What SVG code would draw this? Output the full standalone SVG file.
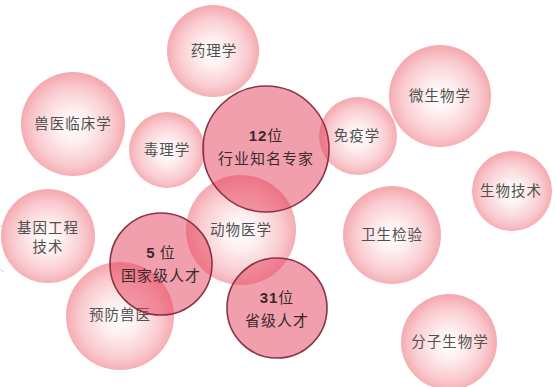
<svg xmlns="http://www.w3.org/2000/svg" width="555" height="387" viewBox="0 0 555 387">
<defs>
<radialGradient id="bub" cx="50%" cy="52%" r="50%">
<stop offset="0" stop-color="#ffffff"/>
<stop offset="0.3" stop-color="#fef0f1"/>
<stop offset="0.75" stop-color="#f9cbcf"/>
<stop offset="1" stop-color="#f5abb1"/>
</radialGradient>
<style>
.b{fill:url(#bub);}
.h{fill:#e6405c;fill-opacity:0.5;stroke:#8a3446;stroke-width:1.6;}
.t{font-family:"Noto Sans CJK SC","Noto Sans",sans-serif;font-size:14.5px;fill:#505050;text-anchor:middle;letter-spacing:1px;}
.k{font-family:"Noto Sans CJK SC","Noto Sans",sans-serif;font-size:15px;fill:#3a2a2e;text-anchor:middle;letter-spacing:1px;}
.n{font-family:"Liberation Sans","Noto Sans",sans-serif;font-weight:bold;}
</style>
</defs>
<rect width="555" height="387" fill="#ffffff"/>
<path d="M4,224 A26,26 0 0 0 4,272" fill="none" stroke="#d8d8d8" stroke-width="1"/>
<g id="yaoli"><circle class="b" cx="213" cy="51" r="46"/><text class="t" x="214" y="56">药理学</text></g>
<g id="shouyi"><circle class="b" cx="73" cy="124" r="52"/><text class="t" x="73" y="129">兽医临床学</text></g>
<g id="duli"><circle class="b" cx="167" cy="150" r="38"/><text class="t" x="167" y="155">毒理学</text></g>
<g id="mianyi"><circle class="b" cx="358" cy="136" r="39"/><text class="t" x="357" y="141">免疫学</text></g>
<g id="weisheng"><circle class="b" cx="440" cy="96" r="51"/><text class="t" x="440" y="101">微生物学</text></g>
<g id="shengwu"><circle class="b" cx="512" cy="191" r="40"/><text class="t" x="511" y="196">生物技术</text></g>
<g id="jiyin"><circle class="b" cx="48" cy="236" r="47"/><text class="t" x="48" y="233">基因工程</text><text class="t" x="48" y="252">技术</text></g>
<g id="dongwu"><circle class="b" cx="241" cy="230" r="55"/><text class="t" x="241" y="235">动物医学</text></g>
<g id="yufang"><circle class="b" cx="120" cy="316" r="54"/><text class="t" x="120" y="320">预防兽医</text></g>
<g id="weishengjianyan"><circle class="b" cx="392" cy="235" r="49"/><text class="t" x="392" y="240">卫生检验</text></g>
<g id="fenzi"><circle class="b" cx="449" cy="342" r="48"/><text class="t" x="450" y="347">分子生物学</text></g>
<g id="expert12"><circle class="h" cx="266" cy="149" r="63"/><text class="k" x="266" y="141"><tspan class="n">12</tspan>位</text><text class="k" x="266" y="164">行业知名专家</text></g>
<g id="nation5"><circle class="h" cx="161" cy="264" r="51"/><text class="k" x="161" y="258"><tspan class="n">5</tspan> 位</text><text class="k" x="161" y="281">国家级人才</text></g>
<g id="prov31"><circle class="h" cx="277" cy="308" r="50"/><text class="k" x="277" y="303"><tspan class="n">31</tspan>位</text><text class="k" x="277" y="326">省级人才</text></g>
<g id="connectors"></g>
</svg>
